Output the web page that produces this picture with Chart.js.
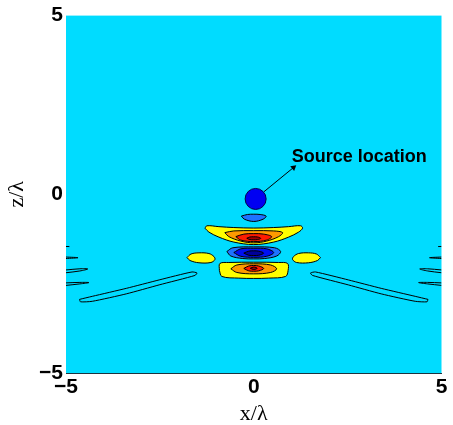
<!DOCTYPE html>
<html>
<head>
<meta charset="utf-8">
<script src="https://cdn.jsdelivr.net/npm/chart.js@4.4.1/dist/chart.umd.min.js"></script>
<style>
  html, body { margin: 0; padding: 0; background: #ffffff; }
  canvas { display: block; }
</style>
</head>
<body>
<canvas id="field" width="453" height="425"></canvas>
<script>
// Axis ticks (in wavelengths)
const xTicks = [-5, 0, 5];
const zTicks = [-5, 0, 5];

// Source marker, arrow and its label (x/λ, z/λ)
const sourcePoint = [0.05, -0.13];
const arrowPath = [[0.27, 0.07], [1.06, 0.75]];
const labelAt = [1.01, 1.05];
const labelText = 'Source location';

// Contour outlines, each a closed loop of [x/λ, z/λ] vertices
const zeroLoopL = [[-4.64,-2.94],[-4.30,-2.855],[-3.395,-2.632],[-2.52,-2.396],[-1.645,-2.173],[-1.512,-2.201],[-1.565,-2.27],[-2.52,-2.535],[-3.395,-2.786],[-4.30,-2.994],[-4.615,-3.008],[-4.64,-2.94]];
const zeroLoopR = [[4.64,-2.94],[4.30,-2.855],[3.395,-2.632],[2.52,-2.396],[1.645,-2.173],[1.512,-2.201],[1.565,-2.27],[2.52,-2.535],[3.395,-2.786],[4.30,-2.994],[4.615,-3.008],[4.64,-2.94]];

const edgeL1 = [[-5.0,-1.46],[-4.91,-1.462]];
const edgeL2 = [[-5.0,-1.755],[-4.68,-1.774],[-5.0,-1.797]];
const edgeL3 = [[-5.0,-2.117],[-4.63,-2.084],[-4.42,-2.089],[-4.63,-2.145],[-5.0,-2.195]];
const edgeL4 = [[-5.0,-2.479],[-4.63,-2.465],[-4.39,-2.47],[-4.63,-2.507],[-5.0,-2.549]];
const edgeR1 = [[5.0,-1.46],[4.91,-1.462]];
const edgeR2 = [[5.0,-1.755],[4.68,-1.774],[5.0,-1.797]];
const edgeR3 = [[5.0,-2.117],[4.63,-2.084],[4.42,-2.089],[4.63,-2.145],[5.0,-2.195]];
const edgeR4 = [[5.0,-2.479],[4.63,-2.465],[4.39,-2.47],[4.63,-2.507],[5.0,-2.549]];

const sideLobeL = [[-1.777,-1.769],[-1.671,-1.671],[-1.459,-1.638],[-1.194,-1.657],[-1.061,-1.741],[-1.034,-1.825],[-1.141,-1.908],[-1.459,-1.916],[-1.698,-1.852],[-1.777,-1.769]];
const sideLobeR = [[1.777,-1.769],[1.671,-1.671],[1.459,-1.638],[1.194,-1.657],[1.061,-1.741],[1.034,-1.825],[1.141,-1.908],[1.459,-1.916],[1.698,-1.852],[1.777,-1.769]];

const nearCap = [[-0.33,-0.61],[-0.17,-0.565],[0,-0.557],[0.17,-0.565],[0.33,-0.61],[0.25,-0.696],[0,-0.76],[-0.25,-0.696],[-0.33,-0.61]];

const arcOuter = [[-1.30,-0.947],[-1.247,-0.88],[-0.928,-0.905],[-0.531,-0.93],[0,-0.945],[0.531,-0.93],[0.928,-0.905],[1.247,-0.88],[1.30,-0.947],[1.194,-1.058],[0.928,-1.198],[0.531,-1.337],[0,-1.407],[-0.531,-1.337],[-0.928,-1.198],[-1.194,-1.058],[-1.30,-0.947]];
const arcMid = [[-0.769,-1.072],[-0.531,-1.025],[0,-1.017],[0.531,-1.025],[0.769,-1.072],[0.663,-1.184],[0.345,-1.309],[0,-1.359],[-0.345,-1.309],[-0.663,-1.184],[-0.769,-1.072]];
const arcInner = [[-0.477,-1.184],[-0.265,-1.114],[0,-1.1],[0.265,-1.114],[0.477,-1.184],[0.345,-1.281],[0,-1.323],[-0.345,-1.281],[-0.477,-1.184]];
const arcCore = [[-0.186,-1.231],[-0.106,-1.195],[0,-1.189],[0.106,-1.195],[0.186,-1.231],[0.106,-1.267],[0,-1.273],[-0.106,-1.267],[-0.186,-1.231]];

const troughOuter = [[-0.716,-1.602],[-0.557,-1.496],[0,-1.471],[0.557,-1.496],[0.716,-1.602],[0.61,-1.727],[0.292,-1.797],[0,-1.808],[-0.292,-1.797],[-0.61,-1.727],[-0.716,-1.602]];
const troughInner = [[-0.531,-1.63],[-0.345,-1.526],[0,-1.51],[0.345,-1.526],[0.531,-1.63],[0.345,-1.735],[0,-1.763],[-0.345,-1.735],[-0.531,-1.63]];
const troughCore = [[-0.265,-1.646],[-0.133,-1.591],[0,-1.582],[0.133,-1.591],[0.265,-1.646],[0.133,-1.705],[0,-1.713],[-0.133,-1.705],[-0.265,-1.646]];

const lowerOuter = [[-0.915,-2.131],[-0.902,-1.936],[-0.663,-1.908],[0,-1.9],[0.663,-1.908],[0.902,-1.936],[0.915,-2.131],[0.849,-2.298],[0.398,-2.345],[0,-2.354],[-0.398,-2.345],[-0.849,-2.298],[-0.915,-2.131]];
const lowerMid = [[-0.61,-2.084],[-0.451,-1.978],[0,-1.944],[0.451,-1.978],[0.61,-2.084],[0.451,-2.187],[0,-2.226],[-0.451,-2.187],[-0.61,-2.084]];
const lowerInner = [[-0.265,-2.075],[-0.133,-2.006],[0,-1.992],[0.133,-2.006],[0.265,-2.075],[0.133,-2.142],[0,-2.153],[-0.133,-2.142],[-0.265,-2.075]];
const lowerCore = [[-0.093,-2.07],[0,-2.036],[0.093,-2.07],[0,-2.106],[-0.093,-2.07]];

// Fill colours of the contour levels
const BG = '#00dcff';
const C_YELLOW = '#ffff00';
const C_ORANGE = '#ff9a00';
const C_RED = '#ff1c00';
const C_DARKRED = '#a80000';
const C_LIGHTBLUE = '#1e73ff';
const C_BLUE = '#0010f2';
const C_NAVY = '#00009a';

// Layers listed bottom to top
const layers = [
  { pts: zeroLoopL, fill: null, tension: 0.2 },
  { pts: zeroLoopR, fill: null, tension: 0.2 },
  { pts: edgeL1, fill: null }, { pts: edgeL2, fill: null }, { pts: edgeL3, fill: null }, { pts: edgeL4, fill: null },
  { pts: edgeR1, fill: null }, { pts: edgeR2, fill: null }, { pts: edgeR3, fill: null }, { pts: edgeR4, fill: null },
  { pts: sideLobeL, fill: C_YELLOW },
  { pts: sideLobeR, fill: C_YELLOW },
  { pts: nearCap, fill: C_LIGHTBLUE },
  { pts: arcOuter, fill: C_YELLOW },
  { pts: arcMid, fill: C_ORANGE },
  { pts: arcInner, fill: C_RED },
  { pts: arcCore, fill: C_DARKRED },
  { pts: troughOuter, fill: C_LIGHTBLUE },
  { pts: troughInner, fill: C_BLUE },
  { pts: troughCore, fill: C_NAVY },
  { pts: lowerOuter, fill: C_YELLOW },
  { pts: lowerMid, fill: C_ORANGE },
  { pts: lowerInner, fill: C_RED },
  { pts: lowerCore, fill: C_DARKRED }
];

const toXY = arr => arr.map(p => ({ x: p[0], y: p[1] }));
const N = layers.length + 2;

const datasets = layers.map((l, i) => ({
  data: toXY(l.pts),
  borderColor: '#000000',
  borderWidth: 1,
  backgroundColor: l.fill || 'rgba(0,0,0,0)',
  fill: l.fill ? 'shape' : false,
  tension: l.tension !== undefined ? l.tension : 0.35,
  pointRadius: 0,
  order: N - i
}));

// Arrow from the source to its label
datasets.push({
  data: toXY(arrowPath),
  borderColor: '#000000',
  borderWidth: 1,
  fill: false,
  tension: 0,
  pointRadius: [0, 3.5],
  pointStyle: 'triangle',
  pointRotation: 50,
  pointBackgroundColor: '#000000',
  pointBorderColor: '#000000',
  pointBorderWidth: 0,
  order: 1
});

// Source marker
datasets.push({
  data: toXY([sourcePoint]),
  showLine: false,
  fill: false,
  pointRadius: 10.5,
  pointBackgroundColor: '#0000f2',
  pointBorderColor: '#00004a',
  pointBorderWidth: 1,
  order: 0
});

const fieldBackground = {
  id: 'fieldBackground',
  beforeDraw(chart) {
    const { ctx, chartArea: a } = chart;
    ctx.save();
    ctx.fillStyle = BG;
    ctx.fillRect(a.left, a.top, a.right - a.left, a.bottom - a.top);
    ctx.restore();
  }
};

const sourceLabel = {
  id: 'sourceLabel',
  afterDatasetsDraw(chart) {
    const { ctx, scales } = chart;
    ctx.save();
    ctx.font = 'bold 18px "Liberation Sans", Arial, sans-serif';
    ctx.fillStyle = '#000000';
    ctx.textAlign = 'left';
    ctx.textBaseline = 'middle';
    ctx.fillText(labelText, scales.x.getPixelForValue(labelAt[0]), scales.y.getPixelForValue(labelAt[1]));
    ctx.restore();
  }
};

const fmt = v => (v < 0 ? '\u2212' + Math.abs(v) : String(v));
const tickFont = { family: '"Liberation Sans", Arial, sans-serif', size: 21, weight: 'bold' };
const titleFont = { family: '"Liberation Serif", "Times New Roman", serif', size: 22, lineHeight: 1 };

new Chart(document.getElementById('field'), {
  type: 'line',
  data: { datasets },
  options: {
    responsive: false,
    animation: false,
    events: [],
    layout: { padding: { top: 14, right: 10, left: 0, bottom: 0 } },
    plugins: { legend: { display: false }, tooltip: { enabled: false } },
    scales: {
      x: {
        type: 'linear', min: -5, max: 5,
        afterBuildTicks: s => { s.ticks = xTicks.map(v => ({ value: v })); },
        afterFit: s => { s.height = 52; },
        ticks: { callback: fmt, font: tickFont, color: '#000', padding: 2, maxRotation: 0, autoSkip: false },
        grid: { color: 'rgba(0,0,0,0)', drawTicks: false },
        border: { display: true, color: '#1c3440', width: 1 },
        title: { display: true, text: 'x/λ', font: titleFont, color: '#000', padding: { top: 0, bottom: 0 } }
      },
      y: {
        type: 'linear', min: -5, max: 5,
        afterBuildTicks: s => { s.ticks = zTicks.map(v => ({ value: v })); },
        afterFit: s => { s.width = 66; },
        ticks: { callback: fmt, font: tickFont, color: '#000', padding: 3, autoSkip: false },
        grid: { color: 'rgba(0,0,0,0)', drawTicks: false },
        border: { display: false },
        title: { display: true, text: 'z/λ', font: titleFont, color: '#000', padding: { top: 6, bottom: 0 } }
      }
    }
  },
  plugins: [fieldBackground, sourceLabel]
});
</script>
</body>
</html>
